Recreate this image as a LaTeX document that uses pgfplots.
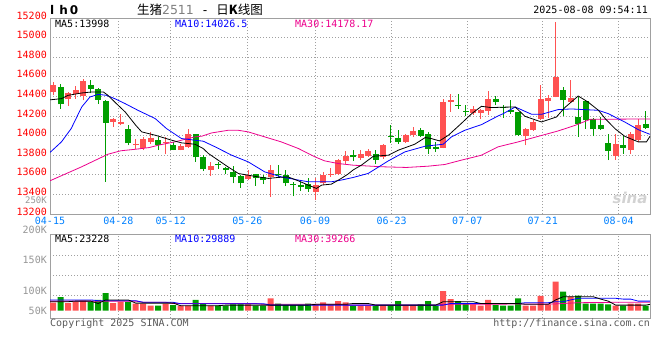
\documentclass[border=0pt]{standalone}
\usepackage{pgfplots}
\pgfplotsset{compat=1.18}
\usepackage{pgfplotstable}
\usepackage{fontspec}
\setmainfont{DejaVu Sans Mono}
\newfontfamily\cjk{Noto Sans CJK SC}
\newfontfamily\sans{DejaVu Sans}
\definecolor{cR}{RGB}{255,82,82}
\definecolor{cG}{RGB}{0,158,0}
\definecolor{gridc}{RGB}{160,160,160}
\definecolor{framec}{RGB}{160,160,160}
\definecolor{tickblue}{RGB}{0,128,255}
\definecolor{volgray}{RGB}{150,150,150}
\definecolor{copyc}{RGB}{90,90,90}

\pgfplotstableread{
i O H L C V
0 14445 14546 14411 14512 20
2 14370 14445 14300 14438 19
3 14428 14502 14377 14461 22
4 14401 14580 14360 14553 25
8 14140 14180 14089 14170 19
9 14118 14224 14105 14140 22
11 13903 13965 13860 13912 17.5
12 13875 13990 13851 13963 17.5
13 13935 14037 13919 13980 12.5
15 13925 13986 13810 13932 17.5
17 13858 13919 13848 13895 12.5
18 13884 14065 13878 14021 12.5
21 13647 13732 13586 13688 12.5
26 13556 13647 13546 13603 16
29 13573 13698 13376 13647 31
35 13427 13563 13342 13495 16
36 13512 13630 13495 13596 21
37 13600 13671 13579 13609 14
38 13606 13766 13596 13749 24
39 13742 13841 13715 13793 21
41 13773 13851 13749 13817 12.5
42 13790 13868 13777 13841 12.5
44 13777 13912 13766 13902 12.5
47 13936 14014 13926 14004 12.5
48 14004 14089 13987 14045 12.5
52 13875 14377 13870 14343 49
53 14343 14421 14241 14367 29
56 14231 14299 14214 14275 16
57 14231 14268 14174 14265 12.5
58 14252 14455 14207 14377 27
63 13993 14078 13901 14064 12.5
64 14054 14156 14050 14139 12.5
65 14173 14512 14156 14370 37
66 14353 14417 14183 14383 16
67 14394 15157 14390 14597 72.5
69 14343 14563 14333 14387 35
75 13790 14014 13756 13912 12.5
77 13858 14038 13810 14014 18
78 13953 14173 13936 14105 18
}\upT

\pgfplotstableread{
i O H L C V
1 14496 14523 14275 14319 34
5 14512 14563 14430 14479 22
6 14479 14489 14326 14367 27
7 14350 14360 13528 14130 44
10 14072 14105 13900 13920 22
14 13953 13986 13858 13909 12.5
16 13909 13936 13851 13858 14
19 14012 14021 13732 13777 27
20 13780 13800 13637 13655 18
22 13708 13732 13664 13700 12.5
23 13671 13681 13613 13647 12.5
24 13630 13688 13512 13579 16
25 13586 13596 13467 13512 16
27 13606 13613 13488 13563 12.5
28 13573 13596 13505 13546 12.5
30 13613 13698 13579 13596 18
31 13603 13647 13485 13512 14
32 13506 13529 13383 13497 14
33 13495 13529 13434 13478 14
34 13505 13563 13427 13454 18
40 13800 13851 13743 13777 12.5
43 13817 13851 13709 13756 12.5
45 13991 14106 13926 13983 14
46 13980 14062 13912 13936 24
49 14055 14082 13987 13997 16
50 14021 14038 13817 13868 24
51 13885 13936 13834 13861 12.5
54 14313 14421 14275 14305 24
55 14251 14309 14197 14244 18
59 14377 14401 14309 14343 14
60 14296 14309 14183 14289 12.5
61 14265 14360 14224 14241 12.5
62 14241 14245 13997 14003 31
68 14462 14496 14197 14360 47.5
70 14190 14394 13987 14122 37.5
71 14353 14360 14071 14156 18
72 14173 14183 13993 14064 18
73 14105 14190 14060 14064 18
74 13925 14014 13749 13844 16
76 13902 13993 13817 13875 12.5
79 14122 14251 14071 14081 12.5
}\downT

\begin{document}
\begin{tikzpicture}
\path[use as bounding box] (0pt,0pt) rectangle (660pt,360pt);

% ---------------- price panel ----------------
\begin{axis}[
  at={(50pt,146pt)}, anchor=south west, scale only axis,
  width=600pt, height=196pt,
  xmin=-0.427, xmax=79.573, ymin=13200, ymax=15200,
  scaled x ticks=false, scaled y ticks=false,
  axis line style={draw=framec, line width=1pt},
  xtick={-0.427,8.68,15.67,25.88,34.91,45.13,55.21,65.27,75.40},
  xticklabels={04-15,04-28,05-12,05-26,06-09,06-23,07-07,07-21,08-04},
  ytick={13200,13400,13600,13800,14000,14200,14400,14600,14800,15000,15200},
  yticklabels={13200,13400,13600,13800,14000,14200,14400,14600,14800,15000,15200},
  grid=major,
  major grid style={draw=gridc, dash pattern=on 1pt off 2pt, line width=0.8pt},
  major tick length=0pt,
  tick label style={font=\fontsize{10}{12}\selectfont},
  xticklabel style={text=tickblue, inner sep=0pt, yshift=-3pt},
  yticklabel style={text=red, inner sep=0pt, xshift=-3pt, yshift=2.5pt},
  candle/.style={draw=none, mark=none, forget plot,
    error bars/y dir=plus, error bars/y explicit, error bars/error mark=none},
]
% wicks
\addplot[candle, error bars/error bar style={draw=cR, line width=1pt, solid}]
  table[x=i, y=L, y error plus expr=\thisrow{H}-\thisrow{L}] {\upT};
\addplot[candle, error bars/error bar style={draw=cG, line width=1pt, solid}]
  table[x=i, y=L, y error plus expr=\thisrow{H}-\thisrow{L}] {\downT};
% bodies
\addplot[candle, error bars/error bar style={draw=cR, line width=6pt, solid}]
  table[x=i, y=O, y error plus expr=\thisrow{C}-\thisrow{O}] {\upT};
\addplot[candle, error bars/error bar style={draw=cG, line width=6pt, solid}]
  table[x=i, y=C, y error plus expr=\thisrow{O}-\thisrow{C}] {\downT};
% MA30
\addplot[magenta, line width=0.8pt, mark=none] coordinates {
(-0.4,13540) (3.8,13682) (7.3,13810) (9,13845) (11,13861) (12.8,13878) (14,13902)
(16.2,13936) (18.9,13987) (19.8,13994) (21.1,14027) (23.3,14054) (24.7,14054)
(26,14038) (28.2,13987) (30.4,13936) (32.7,13868) (34.9,13783) (36.2,13742)
(38,13715) (40,13698) (43.8,13682) (47.1,13675) (50,13688) (52.2,13705)
(54.4,13749) (57.1,13800) (59.3,13885) (62,13936) (64.7,13993) (67.3,14047)
(69.6,14105) (71.6,14166) (79.57,14170)};
% MA10
\addplot[blue, line width=0.8pt, mark=none] coordinates {
(-0.4,13830) (1.1,13936) (2.4,14072) (3.8,14292) (4.9,14394) (6,14421) (7.1,14411)
(8.2,14377) (9.6,14326) (11.3,14258) (13.6,14174) (15.1,14072) (17.1,13970)
(18.9,13953) (20,13943) (21.6,13885) (23.8,13800) (26,13732) (28.2,13630)
(30.4,13579) (32.7,13546) (34,13529) (37.1,13529) (38.4,13546) (40,13573)
(42,13614) (44.7,13743) (46.9,13834) (49.6,13892) (52,13912) (53.1,13987)
(54.9,14055) (57.1,14112) (59.3,14200) (60,14224) (61.6,14292) (63.8,14217)
(65.1,14217) (67.3,14265) (69.1,14272) (70.9,14265) (72.7,14258) (74,14224)
(76.2,14139) (78,14061) (79.57,14013)};
% MA5
\addplot[black, line width=0.8pt, mark=none] coordinates {
(-0.4,14365) (1.1,14377) (2,14411) (3.8,14435) (5.1,14445) (6.7,14445) (7.3,14411)
(8.2,14343) (9.6,14241) (11,14106) (11.8,14038) (13.6,14004) (15.8,13953)
(17.1,13926) (18.9,13912) (20,13868) (20.7,13817) (22,13749) (23.3,13681)
(24.7,13613) (26,13596) (27.3,13579) (28.7,13563) (30,13573) (31.3,13579)
(32.7,13538) (34,13495) (35.1,13461) (35.8,13495) (37.1,13505) (38.4,13563)
(39.3,13607) (40,13650) (41.1,13699) (42.7,13790) (44.7,13800) (46,13851)
(48.2,13912) (49.6,13980) (50.4,13970) (51.5,13946) (52.7,14004) (54.4,14123)
(55.8,14224) (57.1,14299) (58.4,14286) (60,14290) (61.6,14292) (62.9,14197)
(65.1,14139) (67.1,14190) (68.2,14285) (70,14404) (71.3,14343) (72.7,14258)
(73.6,14173) (74.9,14071) (76.2,13993) (78,13936) (79.1,13936) (79.57,13993)};
\end{axis}

% ---------------- volume panel ----------------
\begin{axis}[
  at={(50pt,42pt)}, anchor=south west, scale only axis,
  width=600pt, height=83.7pt,
  xmin=-0.427, xmax=79.573, ymin=-18.25, ymax=191,
  scaled x ticks=false, scaled y ticks=false,
  axis line style={draw=framec, line width=1pt},
  xtick={-0.427,8.68,15.67,25.88,34.91,45.13,55.21,65.27,75.40},
  xticklabels={},
  xmajorgrids=true, ymajorgrids=false,
  ytick={0,50,126.75},
  yticklabels={50K,100K,150K},
  extra y ticks={37.5,87.5,137.5},
  extra y tick labels={},
  extra y tick style={grid=major},
  major grid style={draw=gridc, dash pattern=on 1pt off 2pt, line width=0.8pt},
  major tick length=0pt,
  tick label style={font=\fontsize{10}{12}\selectfont},
  yticklabel style={text=volgray, inner sep=0pt, xshift=-3pt},
]
\addplot[ybar, bar width=6pt, bar shift=0pt, fill=cR, draw=none] table[x=i, y=V] {\upT};
\addplot[ybar, bar width=6pt, bar shift=0pt, fill=cG, draw=none] table[x=i, y=V] {\downT};
\addplot[magenta, line width=0.8pt, mark=none] coordinates {
(-0.4,24) (11,24) (12,21) (15,21) (16,18) (27,18) (28,16) (38,16) (39,14) (51,14)
(52,16) (60,16) (61,17) (67,17) (68,18) (70,20) (75,21) (79.57,21)};
\addplot[blue, line width=0.8pt, mark=none] coordinates {
(-0.4,27) (5,27) (6,25) (11,25) (12,21) (16,21) (17,17.5) (28,17.5) (29,14) (52,14)
(53,18) (62,18) (63,20) (66,20) (67,22.5) (68,22.5) (69,27) (70,31) (75,31) (76,29)
(77,29) (78,24) (79.57,24)};
\addplot[black, line width=0.8pt, mark=none] coordinates {
(-0.4,22.5) (2,22.5) (3,24) (5,24) (6,18) (7,27) (10,27) (11,19) (16,19) (17,12.5)
(22,12.5) (23,14) (34,14) (35,16) (39,16) (40,18) (42,18) (43,14) (51,14) (52,22.5)
(56,22.5) (57,18) (62,18) (63,16) (66,16) (67,27) (68,35) (72,35) (73,29) (74,24)
(75,14) (79,14) (79.57,16)};
\end{axis}

% ---------------- texts ----------------
\node[anchor=west, inner sep=0pt, font=\sans\bfseries\fontsize{12}{14}\selectfont] at (50pt,350pt) {l\kern5pt h\kern2pt 0};
\node[inner sep=0pt, font=\fontsize{12.5}{14}\selectfont] at (200pt,350pt)
  {{\cjk 生猪}{\sans\color{gray}2511}\ -\ {\cjk 日\textbf{K}线图}};
\node[anchor=east, inner sep=0pt, font=\fontsize{10}{12}\selectfont] at (648pt,350pt) {2025-08-08 09:54:11};

\node[anchor=west, inner sep=0pt, font=\fontsize{10}{12}\selectfont] at (55pt,336pt) {MA5:13998};
\node[anchor=west, inner sep=0pt, font=\fontsize{10}{12}\selectfont, text=blue] at (175pt,336pt) {MA10:14026.5};
\node[anchor=west, inner sep=0pt, font=\fontsize{10}{12}\selectfont, text=magenta] at (295pt,336pt) {MA30:14178.17};

\node[anchor=west, inner sep=0pt, font=\fontsize{10}{12}\selectfont] at (55pt,121pt) {MA5:23228};
\node[anchor=west, inner sep=0pt, font=\fontsize{10}{12}\selectfont, text=blue] at (175pt,121pt) {MA10:29889};
\node[anchor=west, inner sep=0pt, font=\fontsize{10}{12}\selectfont, text=magenta] at (295pt,121pt) {MA30:39266};

\node[anchor=east, inner sep=0pt, font=\fontsize{10}{12}\selectfont, text=volgray] at (47pt,130pt) {200K};
\node[anchor=east, inner sep=0pt, font=\fontsize{9}{10}\selectfont, text=volgray] at (47pt,159.5pt) {250K};

\node[anchor=west, inner sep=0pt, font=\fontsize{10}{12}\selectfont, text=copyc] at (50pt,36pt) {Copyright 2025 SINA.COM};
\node[anchor=east, inner sep=0pt, font=\fontsize{10}{12}\selectfont, text=copyc] at (650pt,36pt) {http://finance.sina.com.cn};

\node[inner sep=0pt, text=gray!35, font=\sans\bfseries\itshape\fontsize{15}{15}\selectfont] at (630pt,162pt) {sina};
\end{tikzpicture}
\end{document}
